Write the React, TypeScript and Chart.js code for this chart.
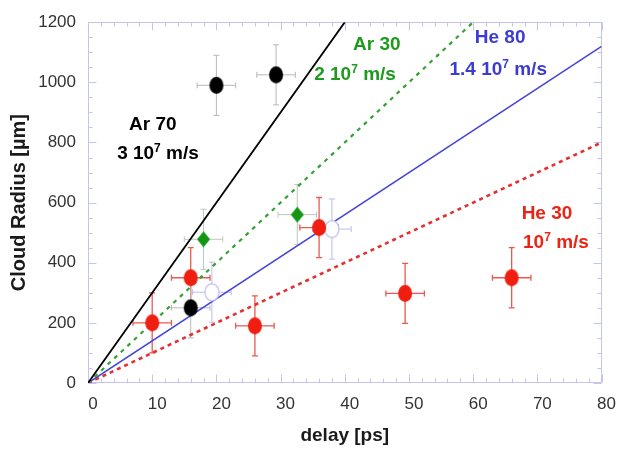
import React, { useEffect, useRef } from 'react';
import { Chart, registerables } from 'chart.js';

Chart.register(...registerables);

// ---------- data ----------
// He 30 (red filled circles)
const he30Delay = [10, 16, 26, 36, 49.4, 66];
const he30Radius = [200, 350, 190, 517, 298, 350];
const he30DelayErr = [3, 3, 3, 3, 3, 3];
const he30RadiusErr = [100, 100, 100, 100, 100, 100];

// Ar 70 (black filled circles)
const ar70Delay = [20, 29.3, 16];
const ar70Radius = [990, 1025, 250];
const ar70DelayErr = [3, 3, 3];
const ar70RadiusErr = [100, 100, 100];

// Ar 30 (green diamonds)
const ar30Delay = [18, 32.6];
const ar30Radius = [478, 560];
const ar30DelayErr = [3, 3];
const ar30RadiusErr = [100, 100];

// He 80 (open circles)
const he80Delay = [19.3, 38];
const he80Radius = [302, 512];
const he80DelayErr = [3, 3];
const he80RadiusErr = [100, 100];

// Expansion-speed lines (end points)
const ar70FitDelay = [0, 40];
const ar70FitRadius = [0, 1200];
const ar30FitDelay = [0, 60];
const ar30FitRadius = [0, 1200];
const he80FitDelay = [0, 80];
const he80FitRadius = [0, 1120];
const he30FitDelay = [0, 80];
const he30FitRadius = [0, 800];

// Tick labels
const xTickValues = [0, 10, 20, 30, 40, 50, 60, 70, 80];
const yTickValues = [0, 200, 400, 600, 800, 1000, 1200];

// Annotation texts
const ar70Label = 'Ar 70';
const ar70Speed = ['3 10', '7', ' m/s'];
const ar30Label = 'Ar 30';
const ar30Speed = ['2 10', '7', ' m/s'];
const he80Label = 'He 80';
const he80Speed = ['1.4 10', '7', ' m/s'];
const he30Label = 'He 30';
const he30Speed = ['10', '7', ' m/s'];

// ---------- styles ----------
const FONT = "'Liberation Sans', Arial, Helvetica, sans-serif";
const BLACK = '#000000';
const GREEN = '#1f9a1f';
const BLUE = '#3c3cd4';
const RED = '#ec2414';
const FRAME = '#c4c4ee';

const pts = (xs: number[], ys: number[]) => xs.map((x, i) => ({ x, y: ys[i] }));

function makeMarker(kind: 'ellipse' | 'diamond', w: number, h: number, fill: string, stroke?: string, lw = 0) {
  const c = document.createElement('canvas');
  const pad = Math.ceil(lw) + 1;
  c.width = w + pad * 2;
  c.height = h + pad * 2;
  const g = c.getContext('2d')!;
  const cx = c.width / 2;
  const cy = c.height / 2;
  g.beginPath();
  if (kind === 'ellipse') {
    g.ellipse(cx, cy, w / 2, h / 2, 0, 0, Math.PI * 2);
  } else {
    g.moveTo(cx, cy - h / 2);
    g.lineTo(cx + w / 2, cy);
    g.lineTo(cx, cy + h / 2);
    g.lineTo(cx - w / 2, cy);
    g.closePath();
  }
  g.fillStyle = fill;
  g.fill();
  if (stroke) {
    g.strokeStyle = stroke;
    g.lineWidth = lw;
    g.stroke();
  }
  return c;
}

const framePlugin = {
  id: 'frame',
  beforeDatasetsDraw(chart: any) {
    const { ctx, chartArea } = chart;
    const xs = chart.scales.x;
    const ys = chart.scales.y;
    const l = Math.round(chartArea.left) + 0.5;
    const r = Math.round(chartArea.right) - 0.5;
    const t = Math.round(chartArea.top) + 0.5;
    const b = Math.round(chartArea.bottom) - 0.5;
    ctx.save();
    ctx.strokeStyle = FRAME;
    ctx.lineWidth = 1;
    ctx.strokeRect(l, t, r - l, b - t);
    ctx.beginPath();
    for (let v = 0; v <= 80; v += 2) {
      const px = Math.round(xs.getPixelForValue(v)) + 0.5;
      const len = v % 10 === 0 ? 8 : 4;
      ctx.moveTo(px, b);
      ctx.lineTo(px, b - len);
      ctx.moveTo(px, t);
      ctx.lineTo(px, t + len);
    }
    for (let v = 0; v <= 1200; v += 50) {
      const py = Math.round(ys.getPixelForValue(v)) + 0.5;
      const len = v % 200 === 0 ? 8 : 4;
      ctx.moveTo(l, py);
      ctx.lineTo(l + len, py);
      ctx.moveTo(r, py);
      ctx.lineTo(r - len, py);
    }
    ctx.stroke();
    ctx.restore();
  },
};

const errorBarPlugin = {
  id: 'errorBars',
  beforeDatasetsDraw(chart: any) {
    const { ctx, chartArea } = chart;
    const xs = chart.scales.x;
    const ys = chart.scales.y;
    ctx.save();
    ctx.beginPath();
    ctx.rect(chartArea.left, chartArea.top, chartArea.right - chartArea.left, chartArea.bottom - chartArea.top);
    ctx.clip();
    chart.data.datasets.forEach((ds: any) => {
      if (!ds.errX) return;
      ctx.strokeStyle = ds.errColor;
      ctx.lineWidth = ds.errWidth;
      const cap = 3;
      ds.data.forEach((p: any, i: number) => {
        const px = xs.getPixelForValue(p.x);
        const py = ys.getPixelForValue(p.y);
        const x0 = xs.getPixelForValue(p.x - ds.errX[i]);
        const x1 = xs.getPixelForValue(p.x + ds.errX[i]);
        const y0 = ys.getPixelForValue(p.y - ds.errY[i]);
        const y1 = ys.getPixelForValue(p.y + ds.errY[i]);
        ctx.beginPath();
        ctx.moveTo(x0, py); ctx.lineTo(x1, py);
        ctx.moveTo(x0, py - cap); ctx.lineTo(x0, py + cap);
        ctx.moveTo(x1, py - cap); ctx.lineTo(x1, py + cap);
        ctx.moveTo(px, y0); ctx.lineTo(px, y1);
        ctx.moveTo(px - cap, y0); ctx.lineTo(px + cap, y0);
        ctx.moveTo(px - cap, y1); ctx.lineTo(px + cap, y1);
        ctx.stroke();
      });
    });
    ctx.restore();
  },
};

type Part = { text: string; sup?: boolean };
const annotations: { x: number; y: number; color: string; parts: Part[] }[] = [
  { x: 10.1, y: 860, color: BLACK, parts: [{ text: ar70Label }] },
  { x: 10.9, y: 762, color: BLACK, parts: [{ text: ar70Speed[0] }, { text: ar70Speed[1], sup: true }, { text: ar70Speed[2] }] },
  { x: 45.0, y: 1124, color: GREEN, parts: [{ text: ar30Label }] },
  { x: 41.6, y: 1025, color: GREEN, parts: [{ text: ar30Speed[0] }, { text: ar30Speed[1], sup: true }, { text: ar30Speed[2] }] },
  { x: 64.2, y: 1147, color: BLUE, parts: [{ text: he80Label }] },
  { x: 63.9, y: 1042, color: BLUE, parts: [{ text: he80Speed[0] }, { text: he80Speed[1], sup: true }, { text: he80Speed[2] }] },
  { x: 71.5, y: 564, color: RED, parts: [{ text: he30Label }] },
  { x: 72.9, y: 468, color: RED, parts: [{ text: he30Speed[0] }, { text: he30Speed[1], sup: true }, { text: he30Speed[2] }] },
];

const annotationPlugin = {
  id: 'annotations',
  afterDatasetsDraw(chart: any) {
    const { ctx } = chart;
    const xs = chart.scales.x;
    const ys = chart.scales.y;
    const main = `bold 19px ${FONT}`;
    const sup = `bold 12px ${FONT}`;
    ctx.save();
    ctx.textBaseline = 'middle';
    ctx.textAlign = 'left';
    annotations.forEach((a) => {
      let total = 0;
      a.parts.forEach((p) => {
        ctx.font = p.sup ? sup : main;
        total += ctx.measureText(p.text).width;
      });
      let cx = xs.getPixelForValue(a.x) - total / 2;
      const cy = ys.getPixelForValue(a.y);
      ctx.fillStyle = a.color;
      a.parts.forEach((p) => {
        ctx.font = p.sup ? sup : main;
        ctx.fillText(p.text, cx, p.sup ? cy - 5 : cy);
        cx += ctx.measureText(p.text).width;
      });
    });
    ctx.restore();
  },
};

export default function App() {
  const ref = useRef<HTMLCanvasElement>(null);

  useEffect(() => {
    const canvas = ref.current!;
    const redDot = makeMarker('ellipse', 14, 17, '#f01e10');
    const blackDot = makeMarker('ellipse', 14, 17, '#000000');
    const greenDiamond = makeMarker('diamond', 13, 16, '#149614');
    const openDot = makeMarker('ellipse', 14, 17, '#ffffff', '#c2c2f2', 1.3);

    const scatter = (data: any, marker: any, errX: number[], errY: number[], errColor: string, errWidth: number) => ({
      data,
      showLine: false,
      pointStyle: marker,
      pointRadius: 7,
      pointHoverRadius: 7,
      errX,
      errY,
      errColor,
      errWidth,
    });
    const line = (data: any, color: string, width: number, dash: number[]) => ({
      data,
      showLine: true,
      pointRadius: 0,
      borderColor: color,
      borderWidth: width,
      borderDash: dash,
      fill: false,
    });

    const chart = new Chart(canvas, {
      type: 'scatter',
      data: {
        datasets: [
          scatter(pts(he30Delay, he30Radius), redDot, he30DelayErr, he30RadiusErr, '#e85a50', 1.3),
          scatter(pts(ar70Delay, ar70Radius), blackDot, ar70DelayErr, ar70RadiusErr, '#b8b8b8', 1),
          scatter(pts(ar30Delay, ar30Radius), greenDiamond, ar30DelayErr, ar30RadiusErr, '#bcc8bc', 1),
          scatter(pts(he80Delay, he80Radius), openDot, he80DelayErr, he80RadiusErr, '#bcbcf0', 1),
          line(pts(ar70FitDelay, ar70FitRadius), '#000000', 1.8, []),
          line(pts(ar30FitDelay, ar30FitRadius), '#35a035', 2.2, [4, 5]),
          line(pts(he80FitDelay, he80FitRadius), '#4444d8', 1.5, []),
          line(pts(he30FitDelay, he30FitRadius), '#e43030', 2.6, [4, 4]),
        ] as any,
      },
      options: {
        animation: false,
        responsive: false,
        devicePixelRatio: 1,
        events: [],
        layout: { padding: { top: 19, right: 19, left: 0, bottom: 0 } },
        plugins: { legend: { display: false }, tooltip: { enabled: false } },
        scales: {
          x: {
            type: 'linear',
            min: 0,
            max: 80,
            grid: { display: false, drawTicks: false },
            border: { display: false },
            afterBuildTicks: (s: any) => {
              s.ticks = xTickValues.map((v) => ({ value: v }));
            },
            afterFit: (s: any) => {
              s.height = 67;
            },
            ticks: {
              padding: 11,
              labelOffset: 5,
              color: '#333333',
              font: { family: FONT, size: 17 },
              maxRotation: 0,
              autoSkip: false,
              callback: (v: any) => String(v),
            },
            title: {
              display: true,
              text: 'delay [ps]',
              color: '#1a1a1a',
              font: { family: FONT, size: 19, weight: 'bold' },
              padding: { top: 0, bottom: 3 },
            },
          },
          y: {
            type: 'linear',
            min: 0,
            max: 1200,
            grid: { display: false, drawTicks: false },
            border: { display: false },
            afterBuildTicks: (s: any) => {
              s.ticks = yTickValues.map((v) => ({ value: v }));
            },
            afterFit: (s: any) => {
              s.width = 88;
            },
            ticks: {
              padding: 12,
              color: '#333333',
              font: { family: FONT, size: 17 },
              autoSkip: false,
              callback: (v: any) => String(v),
            },
            title: {
              display: true,
              text: 'Cloud Radius [µm]',
              color: '#1a1a1a',
              font: { family: FONT, size: 20, weight: 'bold' },
              padding: { top: 7, bottom: 0 },
            },
          },
        },
      } as any,
      plugins: [framePlugin, errorBarPlugin, annotationPlugin],
    });
    return () => chart.destroy();
  }, []);

  return (
    <div style={{ position: 'fixed', left: 0, top: 0, width: 622, height: 450, background: '#ffffff' }}>
      <canvas ref={ref} width={622} height={450} style={{ display: 'block', width: 622, height: 450 }} />
    </div>
  );
}
